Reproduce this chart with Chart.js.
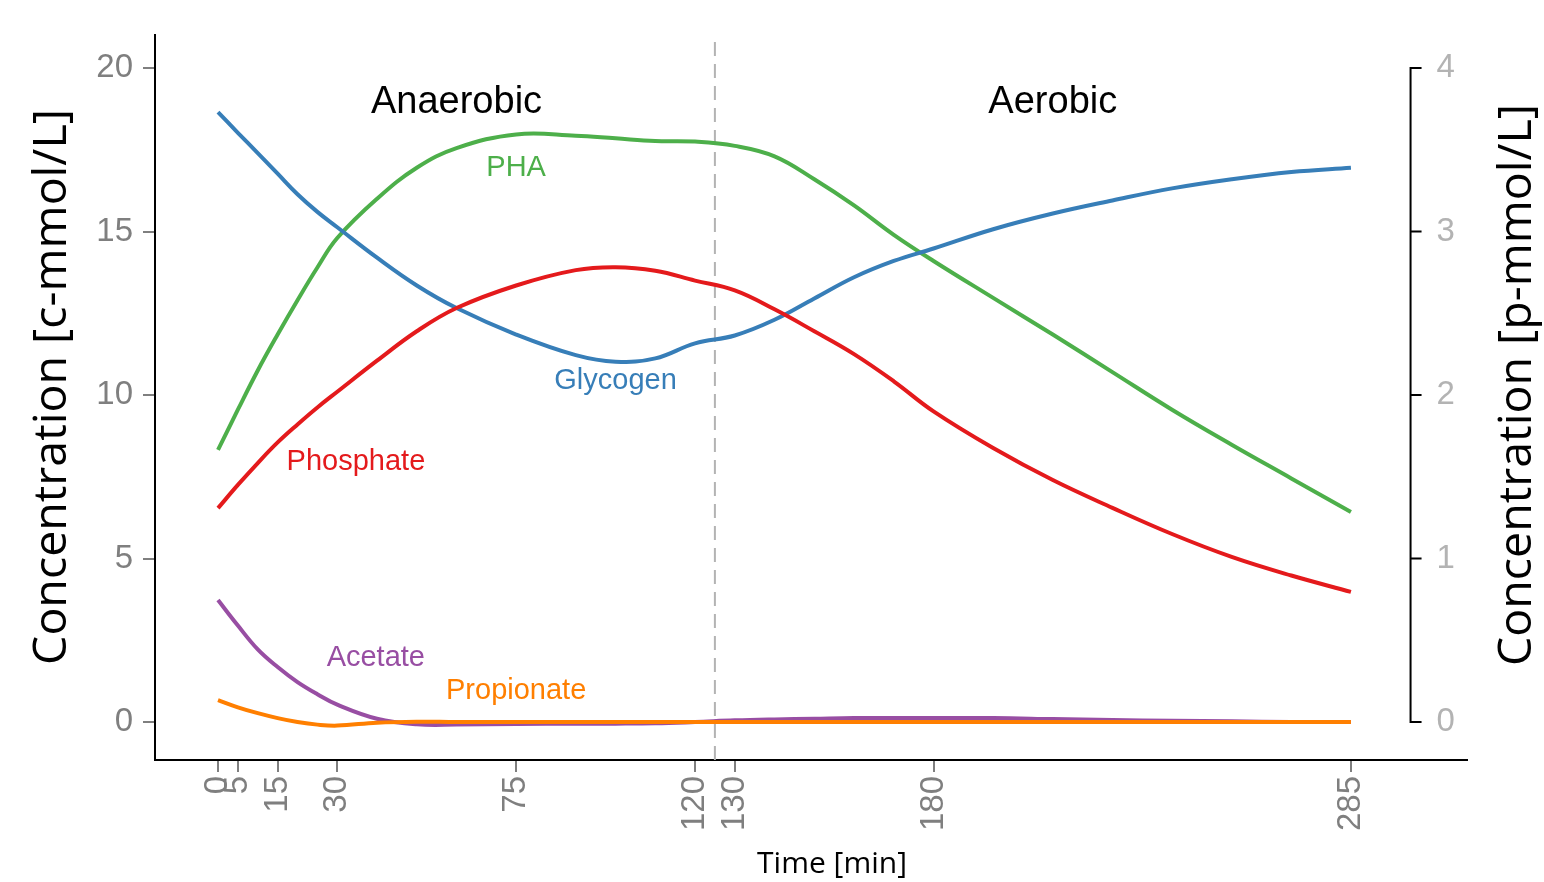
<!DOCTYPE html>
<html lang="en">
<head>
<meta charset="UTF-8">
<title>Concentration profiles</title>
<script src="https://cdn.jsdelivr.net/npm/chart.js@4"></script>
<style>
    body { margin: 0; background: #fff; }
</style>
</head>
<body>
<canvas id="myChart" width="1544" height="882"></canvas>
<script>
// sampling times [min]
var time = [0, 5, 10, 15, 20, 25, 30, 40, 50, 60, 75, 90, 100, 110, 120, 130, 140, 150, 160, 170, 180, 195, 210, 225, 240, 255, 270, 285];

// concentrations [c-mmol/L]
var glycogen   = [18.65, 18.02, 17.4, 16.77, 16.14, 15.6, 15.13, 14.2, 13.35, 12.66, 11.85, 11.22, 11.02, 11.12, 11.58, 11.82, 12.3, 12.95, 13.6, 14.1, 14.48, 15.07, 15.55, 15.95, 16.32, 16.6, 16.82, 16.95];
var pha        = [8.32, 9.55, 10.75, 11.85, 12.9, 13.9, 14.8, 16.0, 16.95, 17.55, 17.97, 17.93, 17.85, 17.77, 17.75, 17.62, 17.3, 16.6, 15.8, 14.9, 14.1, 12.97, 11.85, 10.7, 9.55, 8.48, 7.45, 6.42];
var phosphate  = [6.54, 7.25, 7.92, 8.55, 9.1, 9.62, 10.1, 11.05, 11.95, 12.66, 13.35, 13.82, 13.91, 13.8, 13.5, 13.2, 12.62, 11.95, 11.25, 10.42, 9.5, 8.38, 7.4, 6.55, 5.75, 5.05, 4.48, 3.98];
var acetate    = [3.73, 2.95, 2.22, 1.68, 1.22, 0.85, 0.53, 0.1, -0.07, -0.08, -0.06, -0.05, -0.05, -0.04, 0.0, 0.05, 0.08, 0.1, 0.12, 0.12, 0.12, 0.12, 0.09, 0.06, 0.04, 0.02, 0.0, 0.0];
var propionate = [0.67, 0.45, 0.27, 0.12, 0.0, -0.08, -0.11, -0.02, 0.01, 0.0, 0.0, 0.0, 0.0, 0.0, 0.0, 0.0, 0.0, 0.0, 0.0, 0.0, 0.0, 0.0, 0.0, 0.0, 0.0, 0.0, 0.0, 0.0];

var xTicks = [0, 5, 15, 30, 75, 120, 130, 180, 285];
var yTicks = [0, 5, 10, 15, 20];
var y2Ticks = [0, 1, 2, 3, 4];

var phaseSwitch = 125;   // anaerobic -> aerobic
var xRange = [-15.85, 314.2];
var yRange = [-1.162, 21.01];
var pRatio = 5;          // c-mmol/L per p-mmol/L on the right axis
var rightAxisAt = 300;

var notes = [
    { text: 'Anaerobic', x: 60, y: 18.93, color: '#000000', size: 38 },
    { text: 'Aerobic', x: 210, y: 18.93, color: '#000000', size: 38 },
    { text: 'PHA', x: 75, y: 16.94, color: '#4daf4a', size: 29 },
    { text: 'Glycogen', x: 100, y: 10.43, color: '#377eb8', size: 29 },
    { text: 'Phosphate', x: 34.7, y: 7.95, color: '#e41a1c', size: 29 },
    { text: 'Acetate', x: 39.7, y: 1.96, color: '#984ea3', size: 29 },
    { text: 'Propionate', x: 75, y: 0.95, color: '#ff7f00', size: 29 }
];

function pts(values) {
    return time.map(function (t, i) { return { x: t, y: values[i] }; });
}

function curve(label, values, color) {
    return {
        label: label,
        data: pts(values),
        borderColor: color,
        borderWidth: 4,
        pointRadius: 0,
        tension: 0.4,
        fill: false
    };
}

var notesPlugin = {
    id: 'notes',
    afterDatasetsDraw: function (chart) {
        var ctx = chart.ctx;
        var xs = chart.scales.x, ys = chart.scales.y;
        ctx.save();
        ctx.textAlign = 'center';
        ctx.textBaseline = 'middle';
        notes.forEach(function (n) {
            ctx.font = n.size + 'px "Liberation Sans", Arial, sans-serif';
            ctx.fillStyle = n.color;
            ctx.fillText(n.text, xs.getPixelForValue(n.x), ys.getPixelForValue(n.y));
        });
        ctx.restore();
    }
};

function vTitle(ctx, text, x, y) {
    ctx.save();
    ctx.translate(x, y);
    ctx.rotate(-Math.PI / 2);
    ctx.textAlign = 'center';
    ctx.textBaseline = 'middle';
    ctx.fillStyle = '#000';
    ctx.font = '46.5px "Open Sans", sans-serif';
    ctx.fillText(text, 0, 0);
    ctx.restore();
}

// secondary axis drawn inside the plot, only over its 0..4 range, plus axis titles
var axesPlugin = {
    id: 'axesExtra',
    afterDraw: function (chart) {
        var ctx = chart.ctx;
        var s = chart.scales.y2;
        var x = chart.scales.x.getPixelForValue(rightAxisAt);
        ctx.save();
        ctx.strokeStyle = '#000';
        ctx.lineWidth = 2;
        ctx.lineCap = 'square';
        ctx.beginPath();
        ctx.moveTo(x, s.getPixelForValue(y2Ticks[0]));
        ctx.lineTo(x, s.getPixelForValue(y2Ticks[y2Ticks.length - 1]));
        y2Ticks.forEach(function (v) {
            var py = s.getPixelForValue(v);
            ctx.moveTo(x, py);
            ctx.lineTo(x + 10, py);
        });
        ctx.stroke();

        ctx.fillStyle = '#b3b3b3';
        ctx.font = '33px "Liberation Sans", Arial, sans-serif';
        ctx.textAlign = 'left';
        ctx.textBaseline = 'middle';
        y2Ticks.forEach(function (v) {
            ctx.fillText(String(v), x + 26, s.getPixelForValue(v));
        });

        ctx.fillStyle = '#000';
        ctx.font = '30px "Open Sans", sans-serif';
        ctx.textAlign = 'center';
        ctx.fillText('Time [min]', 832, 864);
        ctx.restore();

        vTitle(ctx, 'Concentration [c-mmol/L]', 53, 387);
        vTitle(ctx, 'Concentration [p-mmol/L]', 1518, 385);
    }
};

var tickFont = { family: 'Liberation Sans', size: 33 };

var ctx = document.getElementById('myChart').getContext('2d');
var myChart = new Chart(ctx, {
    type: 'line',
    data: {
        datasets: [
            curve('Propionate', propionate, '#ff7f00'),
            curve('Acetate', acetate, '#984ea3'),
            curve('Phosphate', phosphate, '#e41a1c'),
            curve('Glycogen', glycogen, '#377eb8'),
            curve('PHA', pha, '#4daf4a'),
            {
                label: 'switch',
                data: [{ x: phaseSwitch, y: yRange[0] }, { x: phaseSwitch, y: yRange[1] }],
                borderColor: '#b3b3b3',
                borderWidth: 2,
                borderDash: [14, 8],
                pointRadius: 0
            }
        ]
    },
    options: {
        responsive: false,
        animation: false,
        layout: { padding: { top: 35, right: 77, left: 0, bottom: 0 } },
        plugins: {
            legend: { display: false },
            tooltip: { enabled: false }
        },
        scales: {
            x: {
                type: 'linear',
                position: 'bottom',
                min: xRange[0],
                max: xRange[1],
                afterBuildTicks: function (axis) {
                    axis.ticks = xTicks.map(function (v) { return { value: v }; });
                },
                afterFit: function (axis) { axis.height = 122; },
                ticks: {
                    autoSkip: false,
                    minRotation: 90,
                    maxRotation: 90,
                    color: '#7f7f7f',
                    font: tickFont,
                    padding: 4
                },
                grid: { drawOnChartArea: false, color: '#7f7f7f', lineWidth: 2, tickLength: 12 },
                border: { color: '#000', width: 2 }
            },
            y: {
                type: 'linear',
                position: 'left',
                min: yRange[0],
                max: yRange[1],
                afterBuildTicks: function (axis) {
                    axis.ticks = yTicks.map(function (v) { return { value: v }; });
                },
                afterFit: function (axis) { axis.width = 155; },
                ticks: { color: '#7f7f7f', font: tickFont, padding: 10 },
                grid: { drawOnChartArea: false, color: '#7f7f7f', lineWidth: 2, tickLength: 12 },
                border: { color: '#000', width: 2 }
            },
            y2: {
                type: 'linear',
                display: false,
                min: yRange[0] / pRatio,
                max: yRange[1] / pRatio
            }
        }
    },
    plugins: [notesPlugin, axesPlugin]
});
</script>
</body>
</html>
